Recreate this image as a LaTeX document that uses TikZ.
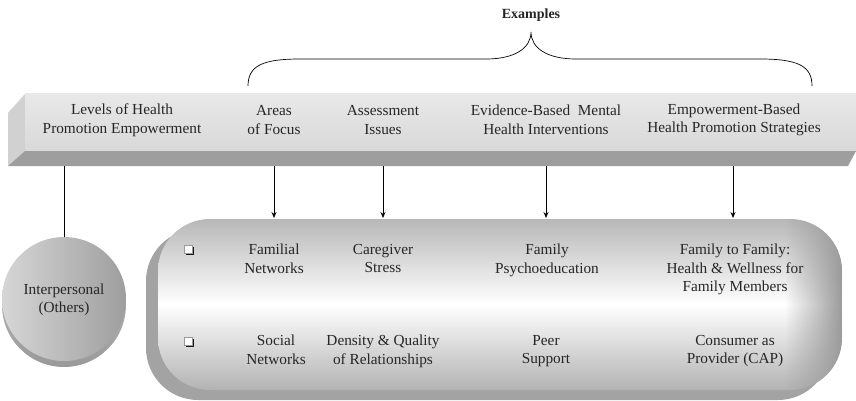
\documentclass[tikz,border=0pt]{standalone}
\usepackage{fontspec}
\setmainfont{Liberation Serif}
\usetikzlibrary{arrows.meta,fadings,shadings}
\tikzfading[name=fadetoright, left color=transparent!100, right color=transparent!0]
\tikzset{
  lbl/.style={font=\fontsize{15.3}{18.5}\selectfont, align=center, inner sep=0pt, text=black!85},
  conn/.style={draw=black, line width=0.7pt},
  arr/.style={conn, -{Stealth[length=6pt,width=5pt]}},
  chk/.style={draw=black!40, line width=0.3pt, fill=white, minimum size=8.5pt, inner sep=0pt},
  chkshadow/.style={fill=black!90},
}
\begin{document}
\begin{tikzpicture}[x=1pt,y=-1pt]
\useasboundingbox (0,0) rectangle (856,401);
% ---------- brace and title ----------
\node[font=\bfseries\fontsize{14}{16}\selectfont, text=black!85, inner sep=0pt] (ex) at (531,15) {Examples};
\coordinate (btip) at (531,32);
\draw[line width=0.7pt] (248,86) .. controls (248,66) and (262,59) .. (300,59) -- (486,59)
   .. controls (515,59) and (531,48) .. (btip)
   .. controls (531,48) and (547,59) .. (576,59) -- (760,59)
   .. controls (798,59) and (812,66) .. (812,86);
% ---------- header bar ----------
\fill[black!18] (8,113) -- (25,94) -- (25,151) -- (8,166) -- cycle;
\shade[top color=black!9, bottom color=black!15] (25,94) rectangle (856,151);
\fill[black!38] (25,151) -- (856,151) -- (848,166) -- (8,166) -- cycle;
\node[lbl] (h1) at (122,120) {Levels of Health\\Promotion Empowerment};
\node[lbl] (h2) at (274,120) {Areas\\of Focus};
\node[lbl] (h3) at (383,120) {Assessment\\Issues};
\node[lbl] (h4) at (546,120) {Evidence-Based\ \ Mental\\Health Interventions};
\node[lbl] (h5) at (734,120) {Empowerment-Based\\Health Promotion Strategies};
\coordinate (b1) at (64,166);
\coordinate (b2) at (274,166);
\coordinate (b3) at (383,166);
\coordinate (b4) at (546,166);
\coordinate (b5) at (733,166);
% ---------- circle (cylinder) ----------
\shade[shading=axis, top color=black!22, bottom color=black!40] (64,305) circle[radius=62];
\shade[shading=axis, shading angle=135, left color=black!16, right color=black!38] (64,299) circle[radius=62];
\node[lbl, minimum size=110pt, circle] (circ) at (64,300) {Interpersonal\\(Others)};
\draw[conn] (b1) -- (circ.north |- 0,237);
% ---------- rounded box ----------
\fill[black!36, rounded corners=52pt] (146,229) rectangle (830,400);
\shade[rounded corners=52pt, top color=black!28, bottom color=black!30, middle color=white] (158,219) rectangle (842,390);
\begin{scope}
\clip[rounded corners=52pt] (158,219) rectangle (842,390);
\fill[black!40, path fading=fadetoright] (785,219) rectangle (843,390);
\end{scope}
\coordinate (t2) at (274,218);
\coordinate (t3) at (383,218);
\coordinate (t4) at (546,218);
\coordinate (t5) at (733,218);
\draw[arr] (b2) -- (t2);
\draw[arr] (b3) -- (t3);
\draw[arr] (b4) -- (t4);
\draw[arr] (b5) -- (t5);
% checkboxes
\fill[chkshadow] (185.5,246.5) rectangle (194,255);
\node[chk] (c1) at (188,249) {};
\fill[chkshadow] (185.5,338.5) rectangle (194,347);
\node[chk] (c2) at (188,341) {};
% row 1
\node[lbl, anchor=north] (r11) at (274,244) {Familial\\Networks};
\node[lbl, anchor=north] (r12) at (383,244) {Caregiver\\Stress};
\node[lbl, anchor=north] (r13) at (547,244) {Family\\Psychoeducation};
\node[lbl, anchor=north] (r14) at (735,244) {Family to Family:\\Health \& Wellness for\\Family Members};
% row 2
\node[lbl, anchor=north] (r21) at (276,335) {Social\\Networks};
\node[lbl, anchor=north] (r22) at (383,335) {Density \& Quality\\of Relationships};
\node[lbl, anchor=north] (r23) at (546,335) {Peer\\Support};
\node[lbl, anchor=north] (r24) at (735,335) {Consumer as\\Provider (CAP)};
\end{tikzpicture}
\end{document}
